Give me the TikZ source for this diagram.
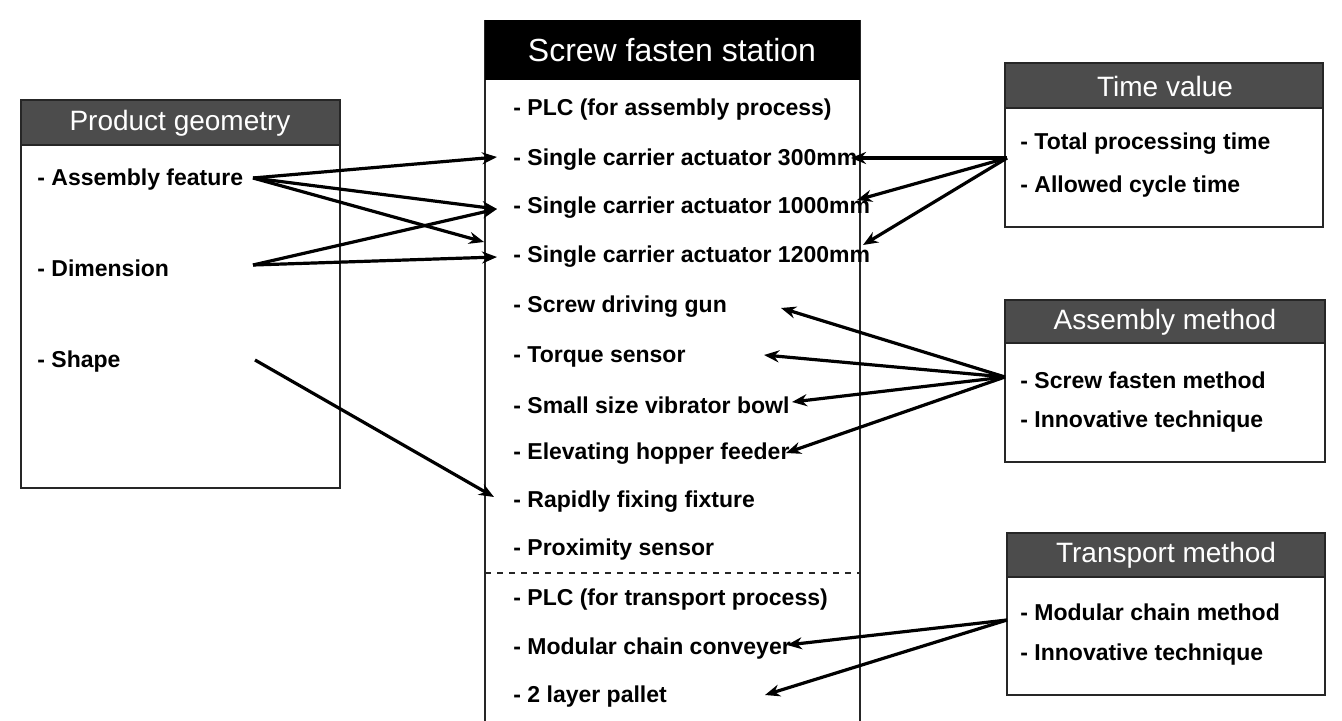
\documentclass[tikz,border=0pt]{standalone}
\usepackage{fontspec}
\setmainfont{Liberation Sans}
\usetikzlibrary{arrows.meta}
\begin{document}
\begin{tikzpicture}[x=0.5pt,y=-0.5pt,
  item/.style={anchor=west,inner sep=0pt,yshift=-1pt,font=\bfseries\fontsize{11.5}{13}\selectfont},
  frame/.style={draw=black!85,line width=0.6pt},
  grayhead/.style={fill=black!70,draw=black!85,line width=0.6pt},
  headtext/.style={text=white,inner sep=0pt,font=\fontsize{14}{16}\selectfont},
  bighead/.style={text=white,inner sep=0pt,font=\fontsize{16}{18}\selectfont},
  link/.style={line width=1.6pt,-{Stealth[length=7.5pt,width=6pt]}}]
\useasboundingbox (0,0) rectangle (1342,721);

% ---------------- left box: Product geometry
\draw[frame] (21,100) rectangle (340,488);
\fill[grayhead] (21,100) rectangle (340,145);
\node[headtext] (pg) at (180,123) {Product geometry};
\node[item] (af) at (37,178) {- Assembly feature};
\node[item] (dim) at (37,266) {- Dimension};
\node[item] (shape) at (37,360) {- Shape};

% ---------------- centre box: Screw fasten station
\draw[frame] (485,20) -- (485,730);
\draw[frame] (860,20) -- (860,730);
\fill[black] (485,20) rectangle (860,80);
\node[bighead] (sfs) at (672,50) {Screw fasten station};
\node[item] (plc1) at (513,108) {- PLC (for assembly process)};
\node[item] (s300) at (513,158) {- Single carrier actuator 300mm};
\node[item] (s1000) at (513,206) {- Single carrier actuator 1000mm};
\node[item] (s1200) at (513,255) {- Single carrier actuator 1200mm};
\node[item] (gun) at (513,305) {- Screw driving gun};
\node[item] (torque) at (513,355) {- Torque sensor};
\node[item] (bowl) at (513,403) {- Small size vibrator bowl};
\node[item] (hopper) at (513,452) {- Elevating hopper feeder};
\node[item] (fixture) at (513,500) {- Rapidly fixing fixture};
\node[item] (prox) at (513,548) {- Proximity sensor};
\draw[frame,dashed] (485,573) -- (860,573);
\node[item] (plc2) at (513,598) {- PLC (for transport process)};
\node[item] (conv) at (513,647) {- Modular chain conveyer};
\node[item] (pallet) at (513,695) {- 2 layer pallet};

% ---------------- right boxes
\draw[frame] (1005,63) rectangle (1323,227);
\fill[grayhead] (1005,63) rectangle (1323,108);
\node[headtext] (tv) at (1165,86) {Time value};
\node[item] (tpt) at (1020,142) {- Total processing time};
\node[item] (act) at (1020,185) {- Allowed cycle time};

\draw[frame] (1005,300) rectangle (1325,462);
\fill[grayhead] (1005,300) rectangle (1325,343);
\node[headtext] (am) at (1165,322) {Assembly method};
\node[item] (sfm) at (1020,378) {- Screw fasten method};
\node[item] (it1) at (1020,420) {- Innovative technique};

\draw[frame] (1007,533) rectangle (1325,695);
\fill[grayhead] (1007,533) rectangle (1325,577);
\node[headtext] (tm) at (1166,555) {Transport method};
\node[item] (mcm) at (1020,610) {- Modular chain method};
\node[item] (it2) at (1020,653) {- Innovative technique};

% ---------------- connector end points
\coordinate (afR) at (253,178);
\coordinate (dimR) at (253,265);
\coordinate (shapeR) at (255,360);
\coordinate (s300L) at (497,157);
\coordinate (s1000L) at (497,209);
\coordinate (s1200La) at (484,242);
\coordinate (s1200L) at (497,257);
\coordinate (fixL) at (494,497);
\coordinate (tvL) at (1007,158);
\coordinate (s300R) at (851,158);
\coordinate (s1000R) at (857,200);
\coordinate (s1200R) at (863,245);
\coordinate (amL) at (1005,377);
\coordinate (gunR) at (781,308);
\coordinate (torqueR) at (764,355);
\coordinate (bowlR) at (792,402);
\coordinate (hopperR) at (786,453);
\coordinate (tmL) at (1007,620);
\coordinate (convR) at (787,645);
\coordinate (palletR) at (765,695);

% ---------------- connectors
\draw[link] (afR) -- (s300L);
\draw[link] (afR) -- (s1000L);
\draw[link] (afR) -- (s1200La);
\draw[link] (dimR) -- (s1000L);
\draw[link] (dimR) -- (s1200L);
\draw[link] (shapeR) -- (fixL);
\draw[link] (tvL) -- (s300R);
\draw[link] (tvL) -- (s1000R);
\draw[link] (tvL) -- (s1200R);
\draw[link] (amL) -- (gunR);
\draw[link] (amL) -- (torqueR);
\draw[link] (amL) -- (bowlR);
\draw[link] (amL) -- (hopperR);
\draw[link] (tmL) -- (convR);
\draw[link] (tmL) -- (palletR);
\end{tikzpicture}
\end{document}
